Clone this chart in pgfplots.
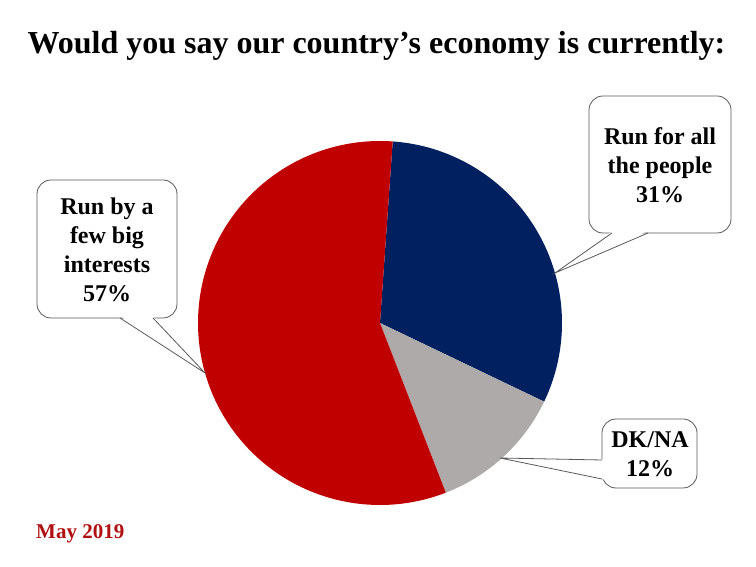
\documentclass[border=0pt]{standalone}
\usepackage{pgfplots}
\pgfplotsset{compat=1.18}
\usepackage{pgfplotstable}
\usepackage{fontspec}
\setmainfont{Liberation Serif}
\definecolor{cred}{HTML}{C00000}
\definecolor{cblue}{HTML}{002060}
\definecolor{cgray}{HTML}{AEAAAA}
\definecolor{cline}{HTML}{595959}
\definecolor{cdate}{HTML}{B01010}

\pgfplotstableread{
slice value
blue 31
gray 12
red 57
}\piedata

\begin{document}%
\begin{tikzpicture}
\pgfplotstablegetelem{0}{value}\of\piedata \edef\vBlue{\pgfplotsretval}
\pgfplotstablegetelem{1}{value}\of\piedata \edef\vGray{\pgfplotsretval}
\pgfplotstablegetelem{2}{value}\of\piedata \edef\vRed{\pgfplotsretval}
\pgfmathsetmacro\aA{86}
\pgfmathsetmacro\aB{\aA-3.6*\vBlue}
\pgfmathsetmacro\aC{\aB-3.6*\vGray}
\pgfmathsetmacro\aD{\aC-3.6*\vRed}
\path (0,0) rectangle (756pt,567pt);
\begin{axis}[x=1pt,y=1pt,xmin=0,xmax=756,ymin=0,ymax=567,hide axis,clip=false,scale only axis,at={(0,0)},anchor=south west]
% pie slices
\addplot[draw=none,fill=cblue,domain=\aB:\aA,samples=90,variable=\t] ({380+182*cos(\t)},{244+182*sin(\t)}) -- (axis cs:380,244) -- cycle;
\addplot[draw=none,fill=cgray,domain=\aC:\aB,samples=40,variable=\t] ({380+182*cos(\t)},{244+182*sin(\t)}) -- (axis cs:380,244) -- cycle;
\addplot[draw=none,fill=cred,domain=\aD:\aC,samples=150,variable=\t] ({380+182*cos(\t)},{244+182*sin(\t)}) -- (axis cs:380,244) -- cycle;
% title
\node[font=\fontsize{32}{36}\selectfont\bfseries,anchor=base] at (axis cs:376.5,513) {Would you say our country’s economy is currently:};
% blue callout
\draw[cline,fill=white,line width=0.8pt,rounded corners=14pt] (axis cs:589,334) rectangle (axis cs:731,471);
\fill[white] (axis cs:612.5,336) -- (axis cs:555,294) -- (axis cs:647.5,336) -- cycle;
\draw[cline,line width=0.8pt] (axis cs:612,334) -- (axis cs:555,294) -- (axis cs:648,334);
\node[align=center,font=\fontsize{24}{29}\selectfont\bfseries] at (axis cs:660,402) {Run for all\\the people\\31\%};
% red callout
\draw[cline,fill=white,line width=0.8pt,rounded corners=14pt] (axis cs:37,249) rectangle (axis cs:177,387);
\fill[white] (axis cs:120.5,251) -- (axis cs:205,194) -- (axis cs:152.5,251) -- cycle;
\draw[cline,line width=0.8pt] (axis cs:120,249) -- (axis cs:205,194) -- (axis cs:153,249);
\node[align=center,font=\fontsize{24}{29}\selectfont\bfseries] at (axis cs:107,317) {Run by a\\few big\\interests\\57\%};
% gray callout
\draw[cline,fill=white,line width=0.8pt,rounded corners=14pt] (axis cs:602,79) rectangle (axis cs:697,148);
\fill[white] (axis cs:604,107.5) -- (axis cs:500,109) -- (axis cs:604,87.5) -- cycle;
\draw[cline,line width=0.8pt] (axis cs:602,107) -- (axis cs:500,109) -- (axis cs:602,88);
\node[align=center,font=\fontsize{24}{29}\selectfont\bfseries] at (axis cs:650,112.5) {DK/NA\\12\%};
% date
\node[font=\fontsize{21}{24}\selectfont\bfseries,text=cdate,anchor=base west,inner sep=0pt] at (axis cs:36,28) {May 2019};
\end{axis}
\end{tikzpicture}%
\end{document}
